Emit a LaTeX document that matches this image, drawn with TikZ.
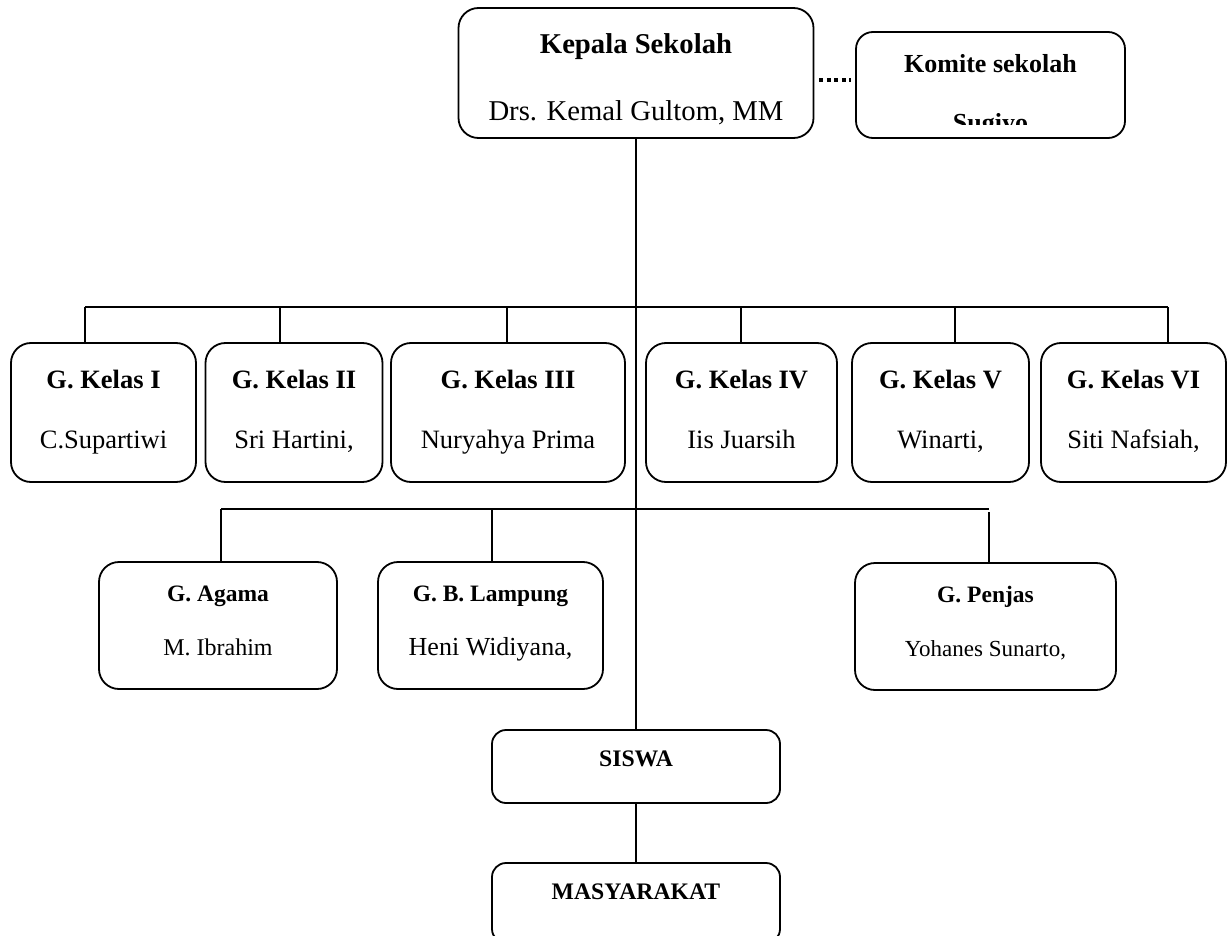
\documentclass[tikz,border=0pt]{standalone}
\usepackage{fontspec}
\setmainfont{Liberation Serif}
\begin{document}
\begin{tikzpicture}[x=1pt,y=-1pt,
  box/.style={draw, line width=1.8pt, rounded corners=20pt, align=center, inner sep=0pt},
  conn/.style={line width=1.8pt},
  dotconn/.style={line width=4pt, dash pattern=on 4pt off 3.5pt}]
\path[use as bounding box, fill=white] (0,0) rectangle (1229,936);
\node[box, minimum width=355, minimum height=130, font=\fontsize{28.7}{67}\selectfont] (kepala) at (636,73) {\rule{0pt}{32pt}\textbf{Kepala Sekolah}\\Drs. Kemal Gultom, MM};
\node[box, rounded corners=17pt, minimum width=269, minimum height=106] (komite) at (990.5,85) {};
\begin{scope}
\clip (856,32) rectangle (1125,125);
\node[font=\fontsize{26}{59}\selectfont\bfseries, align=center] (komitetext) at (990.5,95.5) {Komite sekolah\\Sugiyo};
\end{scope}
\draw[dotconn, shorten <=5pt, shorten >=4pt] (kepala.east |- 0,80) -- (komite.west |- 0,80);
\coordinate (busa) at (85,307);
\coordinate (busb) at (1168,307);
\draw[conn] (busa) -- (busb);
\foreach \n/\cx/\w/\tx/\g/\nm in {kI/103.5/185/85/G. Kelas I/C.Supartiwi,
    kII/294/177/280/G. Kelas II/{Sri Hartini,},
    kIII/508/234/507/G. Kelas III/Nuryahya Prima,
    kIV/741.5/191/741/G. Kelas IV/Iis Juarsih,
    kV/940.5/177/955/G. Kelas V/{Winarti,},
    kVI/1133.5/185/1168/G. Kelas VI/{Siti Nafsiah,}}{
  \node[box, minimum width=\w, minimum height=139, font=\fontsize{26.5}{60}\selectfont] (\n) at (\cx,412.5) {\textbf{\g}\\\nm\rule[-6pt]{0pt}{6pt}};
  \draw[conn] (\tx,307) -- (\n.north -| \tx,0);
}
\node[box, minimum width=238, minimum height=127, font=\fontsize{23.5}{54}\selectfont] (agama) at (218,625.5) {\textbf{G. Agama}\\{\fontsize{24}{54}\selectfont M. Ibrahim}\rule[-10pt]{0pt}{10pt}};
\node[box, minimum width=225, minimum height=127, font=\fontsize{23.5}{54}\selectfont] (lampung) at (490.5,625.5) {\textbf{G. B. Lampung}\\{\fontsize{26}{54}\selectfont Heni Widiyana,}\rule[-10pt]{0pt}{10pt}};
\node[box, minimum width=261, minimum height=127, font=\fontsize{23.5}{54}\selectfont] (penjas) at (985.5,626.5) {\textbf{G. Penjas}\\{\fontsize{23}{54}\selectfont Yohanes Sunarto,}\rule[-9.5pt]{0pt}{9.5pt}};
\coordinate (busc) at (221,509);
\coordinate (busd) at (989,509);
\draw[conn] (busc) -- (busd);
\draw[conn] (busc) -- (agama.north -| busc);
\draw[conn] (492,509) -- (lampung.north -| 492,0);
\draw[conn] (989,512) -- (penjas.north -| busd);
\node[box, rounded corners=14pt, minimum width=288, text height=36.9pt, text depth=36.1pt, font=\fontsize{23.7}{28}\selectfont\bfseries] (siswa) at (636,766.5) {SISWA};
\node[box, rounded corners=14pt, minimum width=288, text height=36.9pt, text depth=43.1pt, font=\fontsize{23.7}{28}\selectfont\bfseries] (masyarakat) at (636,903) {MASYARAKAT};
\draw[conn] (kepala.south) -- (siswa.north);
\draw[conn] (siswa.south) -- (masyarakat.north);
\end{tikzpicture}
\end{document}
